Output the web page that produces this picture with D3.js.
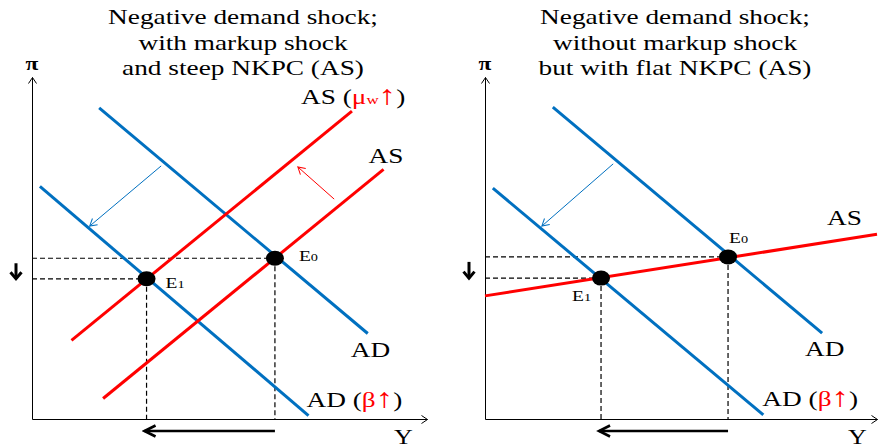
<!DOCTYPE html>
<html>
<head>
<meta charset="utf-8">
<script src="https://cdn.jsdelivr.net/npm/d3@7"></script>
<style>
  body { margin: 0; background: #fff; }
  svg { display: block; }
</style>
</head>
<body>
<svg id="chart" width="878" height="448"></svg>
<script>
// ── Colours & type ───────────────────────────────────────────────
const BLUE = '#0070c0';
const RED = '#ff0000';
const SERIF = "'Liberation Serif'";
const STRETCH = 1.3; // the original lettering is drawn wide

// ── Data: every curve in (Y, π) units, both axes run 0–100 ──────
const Y_DOMAIN = [0, 100];
const PI_DOMAIN = [0, 100];

const TITLE_LEFT = ['Negative demand shock;', 'with markup shock', 'and steep NKPC (AS)'];
const TITLE_RIGHT = ['Negative demand shock;', 'without markup shock', 'but with flat NKPC (AS)'];

// left panel
const AD_LEFT = [[17, 91], [85, 25]];
const AD_BETA_LEFT = [[2, 68], [70, 1]];
const AS_MU_LEFT = [[10, 23], [81, 90]];
const AS_LEFT = [[18, 6], [89, 73]];
const EQ_LEFT = [[61.5, 47], [29, 41]];          // E0, E1
const AD_SHIFT_LEFT = [[32.7, 74], [14.6, 56.4]];
const AS_SHIFT_LEFT = [[76.5, 64.3], [67.3, 73.7]];

// right panel
const AD_RIGHT = [[17.3, 91.2], [86, 25.1]];
const AD_BETA_RIGHT = [[2, 67.5], [71, 1.2]];
const AS_RIGHT = [[0, 36], [100, 54]];
const EQ_RIGHT = [[62, 47.4], [29.6, 41.2]];
const AD_SHIFT_RIGHT = [[32.7, 74.6], [14.5, 56.4]];

const svg = d3.select('#chart');
const defs = svg.append('defs');

// open chevron arrowheads
function marker(id, color, len, half, width) {
  defs.append('marker')
    .attr('id', id)
    .attr('viewBox', `${-len - 3} ${-half - 3} ${len + 6} ${2 * half + 6}`)
    .attr('refX', 0).attr('refY', 0)
    .attr('markerWidth', len + 6).attr('markerHeight', 2 * half + 6)
    .attr('markerUnits', 'userSpaceOnUse')
    .attr('orient', 'auto')
    .append('path')
    .attr('d', `M${-len},${-half}L0,0L${-len},${half}`)
    .attr('fill', 'none')
    .attr('stroke', color)
    .attr('stroke-width', width);
}
marker('ax', '#000', 6, 4, 1);
marker('thinBlue', BLUE, 7, 4, 1);
marker('thinRed', RED, 7, 4, 1);
marker('bold', '#000', 11, 5.5, 2.6);
marker('boldSmall', '#000', 6.5, 5.5, 3);

// wide serif text placed at (px, py)
function wideText(g, px, py, size, anchor) {
  return g.append('text')
    .attr('transform', `translate(${px},${py}) scale(${STRETCH},1)`)
    .attr('text-anchor', anchor || 'start')
    .attr('font-family', SERIF)
    .attr('font-size', size)
    .attr('fill', '#000');
}

function label(g, px, py, parts, size) {
  const t = wideText(g, px, py, size);
  parts.forEach(([txt, color, sz]) => {
    t.append('tspan').attr('fill', color || '#000')
      .attr('font-size', sz || null)
      .text(txt);
  });
  return t;
}

function drawPanel(p) {
  const x = d3.scaleLinear().domain(Y_DOMAIN).range(p.xRange);
  const y = d3.scaleLinear().domain(PI_DOMAIN).range([419, 77]);
  const line = d3.line().x(d => x(d[0])).y(d => y(d[1]));
  const g = svg.append('g');

  // title
  p.title.forEach((s, i) => {
    wideText(g, p.titleX, 24 + i * 25.5, 21, 'middle').text(s);
  });

  // axes
  const xAxis = g.append('g')
    .attr('transform', `translate(0,${y(0)})`)
    .call(d3.axisBottom(x).tickValues([]).tickSizeOuter(0));
  xAxis.select('.domain').attr('stroke', '#000').attr('marker-end', 'url(#ax)');
  const yAxis = g.append('g')
    .attr('transform', `translate(${x(0)},0)`)
    .call(d3.axisLeft(y).tickValues([]).tickSizeOuter(0));
  yAxis.select('.domain').attr('stroke', '#000').attr('marker-end', 'url(#ax)');

  wideText(g, x(0), 70, 18, 'middle').attr('font-weight', 'bold').text('π');
  wideText(g, x(p.yLabelAt), 444, 20, 'middle').text('Y');

  // dashed guides from equilibria to axes
  p.eq.forEach(e => {
    [[[0, e[1]], e], [e, [e[0], 0]]].forEach(seg => {
      g.append('path').attr('d', line(seg))
        .attr('fill', 'none').attr('stroke', '#000')
        .attr('stroke-width', 1.2).attr('stroke-dasharray', '5,3');
    });
  });

  // shift arrows
  p.shifts.forEach(([pts, color, mk]) => {
    g.append('path').attr('d', line(pts))
      .attr('fill', 'none').attr('stroke', color)
      .attr('stroke-width', 1).attr('marker-end', `url(#${mk})`);
  });

  // curves
  p.curves.forEach(([pts, color]) => {
    g.append('path').attr('d', line(pts))
      .attr('fill', 'none').attr('stroke', color)
      .attr('stroke-width', 3);
  });

  // equilibrium dots
  g.selectAll('ellipse.eq').data(p.eq).join('ellipse')
    .attr('class', 'eq')
    .attr('cx', d => x(d[0])).attr('cy', d => y(d[1]))
    .attr('rx', 9).attr('ry', 7.5)
    .attr('fill', '#000');

  // output fall (below x-axis) and inflation fall (left of y-axis)
  const [e0, e1] = p.eq;
  g.append('line')
    .attr('x1', x(e0[0])).attr('y1', y(0) + 12)
    .attr('x2', x(e1[0]) - 2).attr('y2', y(0) + 12)
    .attr('stroke', '#000').attr('stroke-width', 2.6)
    .attr('marker-end', 'url(#bold)');
  g.append('line')
    .attr('x1', x(0) - 16).attr('y1', y(e0[1]) + 5)
    .attr('x2', x(0) - 16).attr('y2', y(e1[1]))
    .attr('stroke', '#000').attr('stroke-width', 3)
    .attr('marker-end', 'url(#boldSmall)');

  // curve and point labels
  p.labels.forEach(([anchor, dx, dy, parts, size]) => {
    label(g, x(anchor[0]) + dx, y(anchor[1]) + dy, parts, size);
  });
}

const eqLabel = n => [['E', '#000'], [n, '#000', 11]];
const UP = ['↑', RED, 27];

drawPanel({
  xRange: [32, 427],
  titleX: 243,
  title: TITLE_LEFT,
  yLabelAt: 94,
  eq: EQ_LEFT,
  curves: [[AD_LEFT, BLUE], [AD_BETA_LEFT, BLUE], [AS_MU_LEFT, RED], [AS_LEFT, RED]],
  shifts: [[AD_SHIFT_LEFT, BLUE, 'thinBlue'], [AS_SHIFT_LEFT, RED, 'thinRed']],
  labels: [
    [AS_MU_LEFT[1], -51, -7, [['AS (', '#000'], ['μ', RED], ['w', RED, 13], UP, [')', '#000']], 21],
    [AS_LEFT[1], -15, -6, [['AS', '#000']], 21],
    [AD_LEFT[1], -17, 23, [['AD', '#000']], 21],
    [AD_BETA_LEFT[1], -2, -9, [['AD (', '#000'], ['β', RED], UP, [')', '#000']], 21],
    [EQ_LEFT[0], 24, 3, eqLabel('0'), 15],
    [EQ_LEFT[1], 19, 9, eqLabel('1'), 15]
  ]
});

drawPanel({
  xRange: [485, 877],
  titleX: 675,
  title: TITLE_RIGHT,
  yLabelAt: 95,
  eq: EQ_RIGHT,
  curves: [[AD_RIGHT, BLUE], [AD_BETA_RIGHT, BLUE], [AS_RIGHT, RED]],
  shifts: [[AD_SHIFT_RIGHT, BLUE, 'thinBlue']],
  labels: [
    [AS_RIGHT[1], -50, -9, [['AS', '#000']], 21],
    [AD_RIGHT[1], -17, 23, [['AD', '#000']], 21],
    [AD_BETA_RIGHT[1], -1, -9, [['AD (', '#000'], ['β', RED], UP, [')', '#000']], 21],
    [EQ_RIGHT[0], 1, -14, eqLabel('0'), 15],
    [EQ_RIGHT[1], -29, 23, eqLabel('1'), 15]
  ]
});
</script>
</body>
</html>
